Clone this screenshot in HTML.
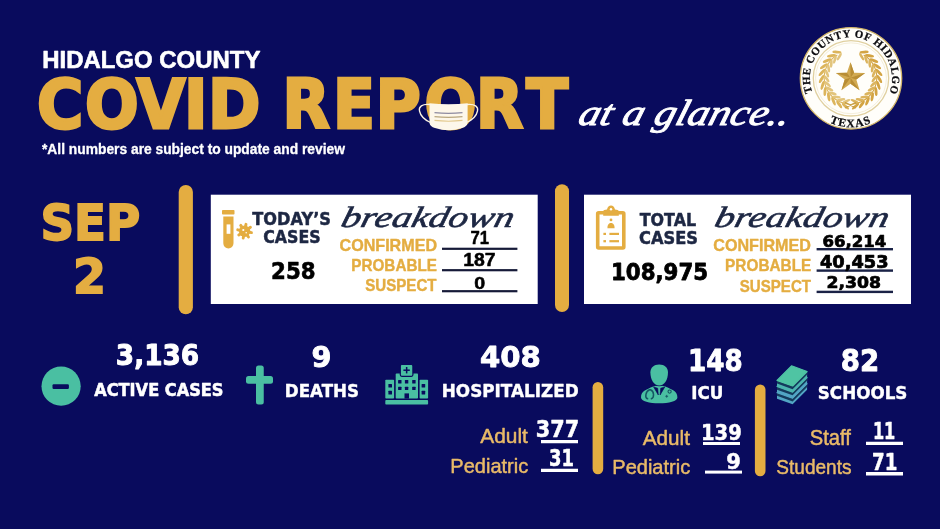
<!DOCTYPE html>
<html lang="en"><head><meta charset="utf-8"><title>Hidalgo County COVID Report at a glance</title>
<style>
html,body{margin:0;padding:0;background:#090b5d;}
body{width:940px;height:529px;overflow:hidden;}
svg{display:block;}
text{white-space:pre;}
</style></head>
<body>
<svg width="940" height="529" viewBox="0 0 940 529" role="img" aria-label="Hidalgo County COVID report at a glance">
<rect width="940" height="529" fill="#090b5d"/>
<rect x="178.7" y="185" width="14.2" height="129.3" rx="7.1" fill="#e4ad41"/>
<rect x="555" y="184.2" width="14" height="127.8" rx="7" fill="#e4ad41"/>
<rect x="592.6" y="382" width="10.6" height="92.2" rx="5.3" fill="#e4ad41"/>
<rect x="754.9" y="384.5" width="10.6" height="91.7" rx="5.3" fill="#e4ad41"/>
<rect x="210.8" y="194.7" width="326.9" height="109.3" fill="#ffffff"/>
<rect x="584" y="194.7" width="327" height="109.3" fill="#ffffff"/>
<rect x="442" y="247.70000000000002" width="75.4" height="2.2" fill="#161a38"/>
<rect x="442" y="269.09999999999997" width="75.4" height="2.2" fill="#161a38"/>
<rect x="442" y="290.09999999999997" width="75.4" height="2.2" fill="#161a38"/>
<rect x="816.6" y="248.0" width="76.4" height="2.4" fill="#1a2246"/>
<rect x="816.6" y="269.40000000000003" width="76.4" height="2.4" fill="#1a2246"/>
<rect x="816.6" y="290.7" width="76.4" height="2.4" fill="#1a2246"/>
<rect x="541" y="440" width="37" height="3.25" fill="#fff"/>
<rect x="541" y="468.75" width="37" height="3.25" fill="#fff"/>
<rect x="703" y="442" width="37" height="3" fill="#fff"/>
<rect x="705" y="470.6" width="37" height="3.0" fill="#fff"/>
<rect x="866" y="441.75" width="37" height="3.25" fill="#fff"/>
<rect x="866" y="472" width="37" height="3.5" fill="#fff"/>
<circle cx="61.1" cy="386.2" r="19.6" fill="#4abfa2"/>
<rect x="52.5" y="384.3" width="16.4" height="4.6" rx="1.2" fill="#090b5d"/>
<rect x="256" y="365.5" width="7.75" height="39" rx="2.5" fill="#4abfa2"/>
<rect x="246" y="376" width="27" height="7.75" rx="2.5" fill="#4abfa2"/>
<g fill="#4abfa2">
<rect x="385.3" y="400.1" width="42.8" height="4.5" rx="0.8"/>
<rect x="385.3" y="379.8" width="8.8" height="18.8" rx="0.8"/>
<rect x="419.6" y="379.8" width="8.5" height="18.8" rx="0.8"/>
<rect x="395.7" y="373.6" width="22.3" height="25" rx="0.8"/>
<rect x="400.3" y="364.5" width="12.6" height="11.8" rx="1.5" stroke="#090b5d" stroke-width="1.2"/>
</g>
<g fill="#090b5d">
<rect x="398.1" y="380.0" width="3.4" height="3.4" rx="0.5"/>
<rect x="398.1" y="386.7" width="3.4" height="3.4" rx="0.5"/>
<rect x="404.90000000000003" y="380.0" width="3.4" height="3.4" rx="0.5"/>
<rect x="404.90000000000003" y="386.7" width="3.4" height="3.4" rx="0.5"/>
<rect x="412.2" y="380.0" width="3.4" height="3.4" rx="0.5"/>
<rect x="412.2" y="386.7" width="3.4" height="3.4" rx="0.5"/>
<rect x="388.4" y="384.0" width="3.6" height="3.6" rx="0.5"/>
<rect x="388.4" y="390.8" width="3.6" height="3.6" rx="0.5"/>
<rect x="421.59999999999997" y="384.0" width="3.6" height="3.6" rx="0.5"/>
<rect x="421.59999999999997" y="390.8" width="3.6" height="3.6" rx="0.5"/>
<rect x="404.5" y="393.4" width="4.5" height="5.2"/>
<rect x="405.9" y="367" width="1.5" height="6.4"/><rect x="403.4" y="369.45" width="6.4" height="1.5"/>
</g>
<path d="M641 397.5 C641 391.5 646 389.6 653.2 386.6 L659.2 385 L665.2 386.6 C672.4 389.6 677.4 391.5 677.4 397.5 C677.4 401.4 669 403.3 659.2 403.3 C649.4 403.3 641 401.4 641 397.5 Z" fill="#4abfa2"/>
<path d="M650.4 372.5 C650.4 367.5 653.8 364.4 659.2 364.4 C664.6 364.4 668 367.5 668 372.5 C668 379.5 664.5 385.6 659.2 385.6 C653.9 385.6 650.4 379.5 650.4 372.5 Z" fill="#4abfa2" stroke="#090b5d" stroke-width="1.5" paint-order="stroke"/>
<path d="M653.6 386.9 L658.3 395 L657.7 388.2 Z M664.8 386.9 L660.1 395 L660.7 388.2 Z" fill="#090b5d" stroke="#090b5d" stroke-width="0.6"/>
<path d="M649.6 389.8 C645.4 391.4 644.6 397.8 647.6 398.8 M650.4 389.8 C654.6 391.4 654.2 397.8 651.4 398.8" fill="none" stroke="#155663" stroke-width="1.5" stroke-linecap="round"/>
<circle cx="669.6" cy="391.6" r="1.6" fill="none" stroke="#155663" stroke-width="1.1"/>
<path d="M665.3 396.3 h2.8 M666.7 394.9 v2.8" stroke="#155663" stroke-width="0.9"/>
<polygon points="777.0,392.6 792.6,398.2 807.1,383.7 807.1,389.8 792.6,404.3 777.0,398.7" fill="#52a5c4"/>
<polygon points="777.0,392.6 792.6,398.2 807.1,383.7 807.1,386.9 792.6,401.4 777.0,395.8" fill="#143a5c"/>
<polygon points="777.0,392.6 791.5,378.0 807.1,383.7 792.6,398.2" fill="#52a5c4" stroke="#52a5c4" stroke-width="1.2" stroke-linejoin="round"/>
<polygon points="777.0,386.5 792.6,392.1 807.1,377.6 807.1,383.7 792.6,398.2 777.0,392.6" fill="#52a5c4"/>
<polygon points="777.0,386.5 792.6,392.1 807.1,377.6 807.1,380.8 792.6,395.3 777.0,389.7" fill="#143a5c"/>
<polygon points="777.0,386.5 791.5,371.9 807.1,377.6 792.6,392.1" fill="#4cb4ae" stroke="#4cb4ae" stroke-width="1.2" stroke-linejoin="round"/>
<polygon points="777.0,380.4 792.6,386.0 807.1,371.5 807.1,377.6 792.6,392.1 777.0,386.5" fill="#4cb4ae"/>
<polygon points="777.0,380.4 792.6,386.0 807.1,371.5 807.1,374.7 792.6,389.2 777.0,383.6" fill="#143a5c"/>
<polygon points="777.0,380.4 791.5,365.8 807.1,371.5 792.6,386.0" fill="#4fc4a3" stroke="#4fc4a3" stroke-width="1.2" stroke-linejoin="round"/>
<g fill="#e4ad41">
<rect x="222" y="209.9" width="12.5" height="4.7" rx="0.8"/>
<path d="M223.3 216.6 H233.5 V243.3 A5.1 5.1 0 0 1 223.3 243.3 Z"/>
</g>
<rect x="226.6" y="224.4" width="3.8" height="9.4" fill="#ffffff"/>
<circle cx="244.6" cy="231.2" r="5.7" fill="#e4ad41"/>
<line x1="248.52" y1="231.99" x2="251.46" y2="232.59" stroke="#e4ad41" stroke-width="2.9" stroke-linecap="round"/>
<line x1="246.81" y1="234.53" x2="248.47" y2="237.03" stroke="#e4ad41" stroke-width="2.9" stroke-linecap="round"/>
<line x1="243.81" y1="235.12" x2="243.21" y2="238.06" stroke="#e4ad41" stroke-width="2.9" stroke-linecap="round"/>
<line x1="241.27" y1="233.41" x2="238.77" y2="235.07" stroke="#e4ad41" stroke-width="2.9" stroke-linecap="round"/>
<line x1="240.68" y1="230.41" x2="237.74" y2="229.81" stroke="#e4ad41" stroke-width="2.9" stroke-linecap="round"/>
<line x1="242.39" y1="227.87" x2="240.73" y2="225.37" stroke="#e4ad41" stroke-width="2.9" stroke-linecap="round"/>
<line x1="245.39" y1="227.28" x2="245.99" y2="224.34" stroke="#e4ad41" stroke-width="2.9" stroke-linecap="round"/>
<line x1="247.93" y1="228.99" x2="250.43" y2="227.33" stroke="#e4ad41" stroke-width="2.9" stroke-linecap="round"/>
<circle cx="243.29999999999998" cy="230.0" r="1.1" fill="#ffffff"/><circle cx="246.2" cy="232.7" r="0.8" fill="#ffffff"/>
<rect x="597.7" y="212.8" width="26.1" height="35.2" rx="1" fill="none" stroke="#e4ad41" stroke-width="3.6"/>
<path d="M603.2 215.7 V211.5 C603.2 210 605 209.8 607 209.6 C607.6 207.2 609 205.6 611 205.6 C613 205.6 614.4 207.2 615 209.6 C617 209.8 618.8 210 618.8 211.5 V215.7 Z" fill="#e4ad41"/>
<circle cx="611" cy="209.3" r="1.2" fill="#ffffff"/>
<circle cx="611" cy="219.9" r="1.4" fill="#e4ad41"/>
<path d="M607.4 228.3 C607.4 224.5 609 223 611 223 C613 223 614.6 224.5 614.6 228.3 Z" fill="#e4ad41"/>
<rect x="603.4" y="232.8" width="2.6" height="2.2" fill="#e4ad41"/><rect x="609.4" y="232.8" width="9.6" height="2.2" fill="#e4ad41"/>
<rect x="603.4" y="240.1" width="2.6" height="2.2" fill="#e4ad41"/><rect x="609.4" y="240.1" width="9.6" height="2.2" fill="#e4ad41"/>
<circle cx="851.0" cy="78.3" r="50.699999999999996" fill="#fffefa" stroke="#d3b76a" stroke-width="1.3"/>
<circle cx="851.0" cy="78.3" r="37.7" fill="none" stroke="#e0d0a0" stroke-width="1.3"/>
<circle cx="851.0" cy="78.3" r="35.4" fill="none" stroke="#efe6cb" stroke-width="0.7"/>
<polygon points="850.50,62.30 854.09,72.76 865.15,72.94 856.30,79.59 859.55,90.16 850.50,83.80 841.45,90.16 844.70,79.59 835.85,72.94 846.91,72.76" fill="#d2aa52"/>
<polygon points="850.50,77.70 850.50,62.30 854.09,72.76" fill="#b88d35"/>
<polygon points="850.50,77.70 865.15,72.94 856.30,79.59" fill="#b88d35"/>
<polygon points="850.50,77.70 859.55,90.16 850.50,83.80" fill="#b88d35"/>
<polygon points="850.50,77.70 841.45,90.16 844.70,79.59" fill="#b88d35"/>
<polygon points="850.50,77.70 835.85,72.94 846.91,72.76" fill="#b88d35"/>
<path d="M853.25 103.86 A26.3 26.3 0 0 0 863.65 54.92" fill="none" stroke="#d3a443" stroke-width="1.1"/>
<ellipse cx="855.54" cy="106.26" rx="4.6" ry="1.45" transform="rotate(-42.0 855.54 106.26)" fill="#d3a443"/>
<ellipse cx="854.63" cy="101.14" rx="4.2" ry="1.35" transform="rotate(22.0 854.63 101.14)" fill="#dbb45e"/>
<ellipse cx="861.79" cy="104.41" rx="4.6" ry="1.45" transform="rotate(-54.9 861.79 104.41)" fill="#d3a443"/>
<ellipse cx="859.76" cy="99.62" rx="4.2" ry="1.35" transform="rotate(9.1 859.76 99.62)" fill="#dbb45e"/>
<ellipse cx="867.47" cy="101.22" rx="4.6" ry="1.45" transform="rotate(-67.8 867.47 101.22)" fill="#d3a443"/>
<ellipse cx="864.43" cy="97.00" rx="4.2" ry="1.35" transform="rotate(-3.8 864.43 97.00)" fill="#dbb45e"/>
<ellipse cx="872.30" cy="96.83" rx="4.6" ry="1.45" transform="rotate(-80.7 872.30 96.83)" fill="#d3a443"/>
<ellipse cx="868.39" cy="93.40" rx="4.2" ry="1.35" transform="rotate(-16.7 868.39 93.40)" fill="#dbb45e"/>
<ellipse cx="876.02" cy="91.48" rx="4.6" ry="1.45" transform="rotate(-93.6 876.02 91.48)" fill="#d3a443"/>
<ellipse cx="871.44" cy="89.01" rx="4.2" ry="1.35" transform="rotate(-29.6 871.44 89.01)" fill="#dbb45e"/>
<ellipse cx="878.45" cy="85.43" rx="4.6" ry="1.45" transform="rotate(-106.5 878.45 85.43)" fill="#d3a443"/>
<ellipse cx="873.44" cy="84.04" rx="4.2" ry="1.35" transform="rotate(-42.5 873.44 84.04)" fill="#dbb45e"/>
<ellipse cx="879.47" cy="78.99" rx="4.6" ry="1.45" transform="rotate(-119.5 879.47 78.99)" fill="#d3a443"/>
<ellipse cx="874.28" cy="78.76" rx="4.2" ry="1.35" transform="rotate(-55.5 874.28 78.76)" fill="#dbb45e"/>
<ellipse cx="879.03" cy="72.48" rx="4.6" ry="1.45" transform="rotate(-132.4 879.03 72.48)" fill="#d3a443"/>
<ellipse cx="873.91" cy="73.42" rx="4.2" ry="1.35" transform="rotate(-68.4 873.91 73.42)" fill="#dbb45e"/>
<ellipse cx="877.14" cy="66.24" rx="4.6" ry="1.45" transform="rotate(-145.3 877.14 66.24)" fill="#d3a443"/>
<ellipse cx="872.36" cy="68.30" rx="4.2" ry="1.35" transform="rotate(-81.3 872.36 68.30)" fill="#dbb45e"/>
<ellipse cx="873.91" cy="60.58" rx="4.6" ry="1.45" transform="rotate(-158.2 873.91 60.58)" fill="#d3a443"/>
<ellipse cx="869.71" cy="63.65" rx="4.2" ry="1.35" transform="rotate(-94.2 869.71 63.65)" fill="#dbb45e"/>
<ellipse cx="869.49" cy="55.78" rx="4.6" ry="1.45" transform="rotate(-171.1 869.49 55.78)" fill="#d3a443"/>
<ellipse cx="866.09" cy="59.71" rx="4.2" ry="1.35" transform="rotate(-107.1 866.09 59.71)" fill="#dbb45e"/>
<ellipse cx="864.11" cy="52.09" rx="4.6" ry="1.45" transform="rotate(-184.0 864.11 52.09)" fill="#d3a443"/>
<ellipse cx="861.67" cy="56.69" rx="4.2" ry="1.35" transform="rotate(-120.0 861.67 56.69)" fill="#dbb45e"/>
<path d="M847.75 103.86 A26.3 26.3 0 0 1 837.35 54.92" fill="none" stroke="#dcb55c" stroke-width="1.1"/>
<ellipse cx="845.46" cy="106.26" rx="4.6" ry="1.45" transform="rotate(222.0 845.46 106.26)" fill="#dcb55c"/>
<ellipse cx="846.37" cy="101.14" rx="4.2" ry="1.35" transform="rotate(158.0 846.37 101.14)" fill="#e2c47c"/>
<ellipse cx="839.21" cy="104.41" rx="4.6" ry="1.45" transform="rotate(234.9 839.21 104.41)" fill="#dcb55c"/>
<ellipse cx="841.24" cy="99.62" rx="4.2" ry="1.35" transform="rotate(170.9 841.24 99.62)" fill="#e2c47c"/>
<ellipse cx="833.53" cy="101.22" rx="4.6" ry="1.45" transform="rotate(247.8 833.53 101.22)" fill="#dcb55c"/>
<ellipse cx="836.57" cy="97.00" rx="4.2" ry="1.35" transform="rotate(183.8 836.57 97.00)" fill="#e2c47c"/>
<ellipse cx="828.70" cy="96.83" rx="4.6" ry="1.45" transform="rotate(260.7 828.70 96.83)" fill="#dcb55c"/>
<ellipse cx="832.61" cy="93.40" rx="4.2" ry="1.35" transform="rotate(196.7 832.61 93.40)" fill="#e2c47c"/>
<ellipse cx="824.98" cy="91.48" rx="4.6" ry="1.45" transform="rotate(273.6 824.98 91.48)" fill="#dcb55c"/>
<ellipse cx="829.56" cy="89.01" rx="4.2" ry="1.35" transform="rotate(209.6 829.56 89.01)" fill="#e2c47c"/>
<ellipse cx="822.55" cy="85.43" rx="4.6" ry="1.45" transform="rotate(286.5 822.55 85.43)" fill="#dcb55c"/>
<ellipse cx="827.56" cy="84.04" rx="4.2" ry="1.35" transform="rotate(222.5 827.56 84.04)" fill="#e2c47c"/>
<ellipse cx="821.53" cy="78.99" rx="4.6" ry="1.45" transform="rotate(299.5 821.53 78.99)" fill="#dcb55c"/>
<ellipse cx="826.72" cy="78.76" rx="4.2" ry="1.35" transform="rotate(235.5 826.72 78.76)" fill="#e2c47c"/>
<ellipse cx="821.97" cy="72.48" rx="4.6" ry="1.45" transform="rotate(312.4 821.97 72.48)" fill="#dcb55c"/>
<ellipse cx="827.09" cy="73.42" rx="4.2" ry="1.35" transform="rotate(248.4 827.09 73.42)" fill="#e2c47c"/>
<ellipse cx="823.86" cy="66.24" rx="4.6" ry="1.45" transform="rotate(325.3 823.86 66.24)" fill="#dcb55c"/>
<ellipse cx="828.64" cy="68.30" rx="4.2" ry="1.35" transform="rotate(261.3 828.64 68.30)" fill="#e2c47c"/>
<ellipse cx="827.09" cy="60.58" rx="4.6" ry="1.45" transform="rotate(338.2 827.09 60.58)" fill="#dcb55c"/>
<ellipse cx="831.29" cy="63.65" rx="4.2" ry="1.35" transform="rotate(274.2 831.29 63.65)" fill="#e2c47c"/>
<ellipse cx="831.51" cy="55.78" rx="4.6" ry="1.45" transform="rotate(351.1 831.51 55.78)" fill="#dcb55c"/>
<ellipse cx="834.91" cy="59.71" rx="4.2" ry="1.35" transform="rotate(287.1 834.91 59.71)" fill="#e2c47c"/>
<ellipse cx="836.89" cy="52.09" rx="4.6" ry="1.45" transform="rotate(364.0 836.89 52.09)" fill="#dcb55c"/>
<ellipse cx="839.33" cy="56.69" rx="4.2" ry="1.35" transform="rotate(300.0 839.33 56.69)" fill="#e2c47c"/>
<path d="M845.5 107.7 l10 -5 M855.5 107.7 l-10 -5" stroke="#c9a046" stroke-width="1.5" stroke-linecap="round"/>
<defs><path id="arcTop" d="M812.38 92.36 A41.1 41.1 0 1 1 889.62 92.36"/>
<path id="arcBot" d="M829.52 122.34 A49.0 49.0 0 0 0 870.93 123.06"/></defs>
<text font-family='"Liberation Serif", serif' font-weight="bold" font-size="10.9" fill="#0c0c10" stroke="#0c0c10" stroke-width="0.25"><textPath href="#arcTop" textLength="157.8" lengthAdjust="spacing">THE COUNTY OF HIDALGO</textPath></text>
<text font-family='"Liberation Serif", serif' font-weight="bold" font-size="11.6" fill="#0c0c10" stroke="#0c0c10" stroke-width="0.25"><textPath href="#arcBot" textLength="42.8" lengthAdjust="spacing">TEXAS</textPath></text>

<text font-family='"Liberation Sans", sans-serif' font-weight="bold" font-style="normal" font-size="23.48" fill="#ffffff" stroke="#ffffff" stroke-width="0.6" stroke-linejoin="round" x="42.22" y="68.00" textLength="218.16" lengthAdjust="spacingAndGlyphs">HIDALGO COUNTY</text>
<text font-family='"DejaVu Sans", sans-serif' font-weight="bold" font-style="normal" font-size="66.99" fill="#e4ad41" stroke="#e4ad41" stroke-width="3.0" stroke-linejoin="miter" x="39.30 90.10 144.77 195.09 220.56" y="127.90" transform="scale(0.9428,1)">COVID</text>
<text font-family='"DejaVu Sans", sans-serif' font-weight="bold" font-style="normal" font-size="66.99" fill="#e4ad41" stroke="#e4ad41" stroke-width="3.0" stroke-linejoin="miter" x="308.44 363.37 409.96 463.26 519.44 574.46" y="127.90" transform="scale(0.9163,1)">REPORT</text>
<text font-family='"Liberation Sans", sans-serif' font-weight="bold" font-style="normal" font-size="13.77" fill="#ffffff" stroke="#ffffff" stroke-width="0.3" stroke-linejoin="round" x="42.00" y="153.75" textLength="302.92" lengthAdjust="spacingAndGlyphs">*All numbers are subject to update and review</text>
<text font-family='"Liberation Serif", serif' font-weight="normal" font-style="italic" font-size="36.50" fill="#ffffff" stroke="#ffffff" stroke-width="0.9" stroke-linejoin="round" transform="translate(576.67,125.15) skewX(-16) translate(-576.67,-125.15)" x="576.67" y="125.15" textLength="210.51" lengthAdjust="spacingAndGlyphs">at a glance..</text>
<text font-family='"DejaVu Sans", sans-serif' font-weight="bold" font-style="normal" font-size="49.04" fill="#e4ad41" stroke="#e4ad41" stroke-width="1.8" stroke-linejoin="miter" x="40.42" y="240.00" textLength="99.84" lengthAdjust="spacingAndGlyphs">SEP</text>
<text font-family='"DejaVu Sans", sans-serif' font-weight="bold" font-style="normal" font-size="48.77" fill="#e4ad41" stroke="#e4ad41" stroke-width="1.8" stroke-linejoin="miter" x="73.08" y="293.30" textLength="33.02" lengthAdjust="spacingAndGlyphs">2</text>
<text font-family='"DejaVu Sans", sans-serif' font-weight="bold" font-style="normal" font-size="17.95" fill="#1d2743" stroke="#1d2743" stroke-width="0.5" stroke-linejoin="round" x="252.33" y="225.25" textLength="78.59" lengthAdjust="spacingAndGlyphs">TODAY’S</text>
<text font-family='"DejaVu Sans", sans-serif' font-weight="bold" font-style="normal" font-size="17.26" fill="#1d2743" stroke="#1d2743" stroke-width="0.5" stroke-linejoin="round" x="263.24" y="243.35" textLength="57.39" lengthAdjust="spacingAndGlyphs">CASES</text>
<text font-family='"DejaVu Sans", sans-serif' font-weight="bold" font-style="normal" font-size="23.15" fill="#000" stroke="#000" stroke-width="0.6" stroke-linejoin="round" x="271.12" y="278.90" textLength="44.56" lengthAdjust="spacingAndGlyphs">258</text>
<text font-family='"Liberation Serif", serif' font-weight="normal" font-style="italic" font-size="29.50" fill="#1d2743" stroke="#1d2743" stroke-width="0.6" stroke-linejoin="round" transform="translate(339.74,227.30) skewX(-14) translate(-339.74,-227.30)" x="339.74" y="227.30" textLength="172.35" lengthAdjust="spacingAndGlyphs">breakdown</text>
<text font-family='"Liberation Sans", sans-serif' font-weight="bold" font-style="normal" font-size="16.38" fill="#e4ad41" stroke="#e4ad41" stroke-width="0.4" stroke-linejoin="round" x="339.51" y="250.50" textLength="97.55" lengthAdjust="spacingAndGlyphs">CONFIRMED</text>
<text font-family='"Liberation Sans", sans-serif' font-weight="bold" font-style="normal" font-size="16.67" fill="#e4ad41" stroke="#e4ad41" stroke-width="0.4" stroke-linejoin="round" x="351.31" y="270.60" textLength="85.62" lengthAdjust="spacingAndGlyphs">PROBABLE</text>
<text font-family='"Liberation Sans", sans-serif' font-weight="bold" font-style="normal" font-size="15.94" fill="#e4ad41" stroke="#e4ad41" stroke-width="0.4" stroke-linejoin="round" x="365.26" y="290.50" textLength="71.27" lengthAdjust="spacingAndGlyphs">SUSPECT</text>
<text font-family='"Liberation Sans", sans-serif' font-weight="bold" font-style="normal" font-size="18.99" fill="#000" stroke="#000" stroke-width="0.5" stroke-linejoin="round" x="470.56" y="243.95" textLength="18.55" lengthAdjust="spacingAndGlyphs">71</text>
<text font-family='"Liberation Sans", sans-serif' font-weight="bold" font-style="normal" font-size="17.97" fill="#000" stroke="#000" stroke-width="0.5" stroke-linejoin="round" x="463.19" y="266.15" textLength="32.31" lengthAdjust="spacingAndGlyphs">187</text>
<text font-family='"Liberation Sans", sans-serif' font-weight="bold" font-style="normal" font-size="16.67" fill="#000" stroke="#000" stroke-width="0.5" stroke-linejoin="round" x="474.21" y="288.95" textLength="10.90" lengthAdjust="spacingAndGlyphs">0</text>
<text font-family='"DejaVu Sans", sans-serif' font-weight="bold" font-style="normal" font-size="17.81" fill="#1d2743" stroke="#1d2743" stroke-width="0.5" stroke-linejoin="round" x="639.72" y="226.15" textLength="56.40" lengthAdjust="spacingAndGlyphs">TOTAL</text>
<text font-family='"DejaVu Sans", sans-serif' font-weight="bold" font-style="normal" font-size="17.81" fill="#1d2743" stroke="#1d2743" stroke-width="0.5" stroke-linejoin="round" x="639.04" y="244.45" textLength="59.00" lengthAdjust="spacingAndGlyphs">CASES</text>
<text font-family='"DejaVu Sans", sans-serif' font-weight="bold" font-style="normal" font-size="23.29" fill="#000" stroke="#000" stroke-width="0.8" stroke-linejoin="round" x="610.94" y="279.80" textLength="97.25" lengthAdjust="spacingAndGlyphs">108,975</text>
<text font-family='"Liberation Serif", serif' font-weight="normal" font-style="italic" font-size="29.50" fill="#1d2743" stroke="#1d2743" stroke-width="0.6" stroke-linejoin="round" transform="translate(713.23,227.50) skewX(-14) translate(-713.23,-227.50)" x="713.23" y="227.50" textLength="173.62" lengthAdjust="spacingAndGlyphs">breakdown</text>
<text font-family='"Liberation Sans", sans-serif' font-weight="bold" font-style="normal" font-size="16.81" fill="#e4ad41" stroke="#e4ad41" stroke-width="0.4" stroke-linejoin="round" x="713.27" y="250.80" textLength="97.68" lengthAdjust="spacingAndGlyphs">CONFIRMED</text>
<text font-family='"Liberation Sans", sans-serif' font-weight="bold" font-style="normal" font-size="17.25" fill="#e4ad41" stroke="#e4ad41" stroke-width="0.4" stroke-linejoin="round" x="725.11" y="271.10" textLength="86.15" lengthAdjust="spacingAndGlyphs">PROBABLE</text>
<text font-family='"Liberation Sans", sans-serif' font-weight="bold" font-style="normal" font-size="17.39" fill="#e4ad41" stroke="#e4ad41" stroke-width="0.4" stroke-linejoin="round" x="739.78" y="291.50" textLength="71.28" lengthAdjust="spacingAndGlyphs">SUSPECT</text>
<text font-family='"DejaVu Sans", sans-serif' font-weight="bold" font-style="normal" font-size="16.03" fill="#000" stroke="#000" stroke-width="0.7" stroke-linejoin="round" x="822.48" y="246.85" textLength="63.84" lengthAdjust="spacingAndGlyphs">66,214</text>
<text font-family='"DejaVu Sans", sans-serif' font-weight="bold" font-style="normal" font-size="17.12" fill="#000" stroke="#000" stroke-width="0.7" stroke-linejoin="round" x="819.98" y="267.85" textLength="68.59" lengthAdjust="spacingAndGlyphs">40,453</text>
<text font-family='"DejaVu Sans", sans-serif' font-weight="bold" font-style="normal" font-size="16.71" fill="#000" stroke="#000" stroke-width="0.7" stroke-linejoin="round" x="826.47" y="288.05" textLength="54.60" lengthAdjust="spacingAndGlyphs">2,308</text>
<text font-family='"DejaVu Sans", sans-serif' font-weight="bold" font-style="normal" font-size="28.90" fill="#ffffff" stroke="#ffffff" stroke-width="1.0" stroke-linejoin="round" x="115.83" y="365.30" textLength="83.28" lengthAdjust="spacingAndGlyphs">3,136</text>
<text font-family='"DejaVu Sans", sans-serif' font-weight="bold" font-style="normal" font-size="18.08" fill="#ffffff" stroke="#ffffff" stroke-width="0.6" stroke-linejoin="round" x="94.22" y="395.50" textLength="129.27" lengthAdjust="spacingAndGlyphs">ACTIVE CASES</text>
<text font-family='"DejaVu Sans", sans-serif' font-weight="bold" font-style="normal" font-size="29.04" fill="#ffffff" stroke="#ffffff" stroke-width="0.9" stroke-linejoin="round" x="311.51" y="367.05" textLength="19.92" lengthAdjust="spacingAndGlyphs">9</text>
<text font-family='"DejaVu Sans", sans-serif' font-weight="bold" font-style="normal" font-size="17.60" fill="#ffffff" stroke="#ffffff" stroke-width="0.4" stroke-linejoin="round" x="284.82" y="396.80" textLength="74.16" lengthAdjust="spacingAndGlyphs">DEATHS</text>
<text font-family='"DejaVu Sans", sans-serif' font-weight="bold" font-style="normal" font-size="29.04" fill="#ffffff" stroke="#ffffff" stroke-width="0.9" stroke-linejoin="round" x="480.00" y="367.05" textLength="60.87" lengthAdjust="spacingAndGlyphs">408</text>
<text font-family='"DejaVu Sans", sans-serif' font-weight="bold" font-style="normal" font-size="17.60" fill="#ffffff" stroke="#ffffff" stroke-width="0.4" stroke-linejoin="round" x="441.81" y="396.80" textLength="136.85" lengthAdjust="spacingAndGlyphs">HOSPITALIZED</text>
<text font-family='"DejaVu Sans", sans-serif' font-weight="bold" font-style="normal" font-size="29.73" fill="#ffffff" stroke="#ffffff" stroke-width="0.9" stroke-linejoin="round" x="688.08" y="371.45" textLength="54.67" lengthAdjust="spacingAndGlyphs">148</text>
<text font-family='"DejaVu Sans", sans-serif' font-weight="bold" font-style="normal" font-size="17.95" fill="#ffffff" stroke="#ffffff" stroke-width="0.4" stroke-linejoin="round" x="691.20" y="398.80" textLength="32.11" lengthAdjust="spacingAndGlyphs">ICU</text>
<text font-family='"DejaVu Sans", sans-serif' font-weight="bold" font-style="normal" font-size="29.86" fill="#ffffff" stroke="#ffffff" stroke-width="0.9" stroke-linejoin="round" x="840.74" y="371.45" textLength="38.47" lengthAdjust="spacingAndGlyphs">82</text>
<text font-family='"DejaVu Sans", sans-serif' font-weight="bold" font-style="normal" font-size="17.95" fill="#ffffff" stroke="#ffffff" stroke-width="0.4" stroke-linejoin="round" x="817.82" y="398.80" textLength="89.56" lengthAdjust="spacingAndGlyphs">SCHOOLS</text>
<text font-family='"Liberation Sans", sans-serif' font-weight="normal" font-style="normal" font-size="21.01" fill="#e9ba68" stroke="#e9ba68" stroke-width="0.5" stroke-linejoin="round" x="480.25" y="443.25" textLength="47.63" lengthAdjust="spacingAndGlyphs">Adult</text>
<text font-family='"Liberation Sans", sans-serif' font-weight="normal" font-style="normal" font-size="20.87" fill="#e9ba68" stroke="#e9ba68" stroke-width="0.5" stroke-linejoin="round" x="450.36" y="472.95" textLength="77.79" lengthAdjust="spacingAndGlyphs">Pediatric</text>
<text font-family='"DejaVu Sans", sans-serif' font-weight="bold" font-style="normal" font-size="22.60" fill="#ffffff" stroke="#ffffff" stroke-width="0.5" stroke-linejoin="round" x="535.85" y="437.00" textLength="43.46" lengthAdjust="spacingAndGlyphs">377</text>
<text font-family='"DejaVu Sans", sans-serif' font-weight="bold" font-style="normal" font-size="22.26" fill="#ffffff" stroke="#ffffff" stroke-width="0.5" stroke-linejoin="round" x="548.99" y="465.50" textLength="24.99" lengthAdjust="spacingAndGlyphs">31</text>
<text font-family='"Liberation Sans", sans-serif' font-weight="normal" font-style="normal" font-size="21.01" fill="#e9ba68" stroke="#e9ba68" stroke-width="0.5" stroke-linejoin="round" x="642.75" y="444.75" textLength="47.13" lengthAdjust="spacingAndGlyphs">Adult</text>
<text font-family='"Liberation Sans", sans-serif' font-weight="normal" font-style="normal" font-size="20.43" fill="#e9ba68" stroke="#e9ba68" stroke-width="0.5" stroke-linejoin="round" x="612.28" y="474.15" textLength="77.94" lengthAdjust="spacingAndGlyphs">Pediatric</text>
<text font-family='"DejaVu Sans", sans-serif' font-weight="bold" font-style="normal" font-size="21.92" fill="#ffffff" stroke="#ffffff" stroke-width="0.5" stroke-linejoin="round" x="700.99" y="439.55" textLength="40.89" lengthAdjust="spacingAndGlyphs">139</text>
<text font-family='"DejaVu Sans", sans-serif' font-weight="bold" font-style="normal" font-size="21.92" fill="#ffffff" stroke="#ffffff" stroke-width="0.5" stroke-linejoin="round" x="726.28" y="468.55" textLength="14.69" lengthAdjust="spacingAndGlyphs">9</text>
<text font-family='"Liberation Sans", sans-serif' font-weight="normal" font-style="normal" font-size="21.38" fill="#e9ba68" stroke="#e9ba68" stroke-width="0.5" stroke-linejoin="round" x="809.79" y="444.50" textLength="41.06" lengthAdjust="spacingAndGlyphs">Staff</text>
<text font-family='"Liberation Sans", sans-serif' font-weight="normal" font-style="normal" font-size="20.29" fill="#e9ba68" stroke="#e9ba68" stroke-width="0.5" stroke-linejoin="round" x="776.30" y="474.15" textLength="75.25" lengthAdjust="spacingAndGlyphs">Students</text>
<text font-family='"DejaVu Sans", sans-serif' font-weight="bold" font-style="normal" font-size="22.60" fill="#ffffff" stroke="#ffffff" stroke-width="0.5" stroke-linejoin="round" x="872.89" y="439.00" textLength="22.47" lengthAdjust="spacingAndGlyphs">11</text>
<text font-family='"DejaVu Sans", sans-serif' font-weight="bold" font-style="normal" font-size="22.33" fill="#ffffff" stroke="#ffffff" stroke-width="0.5" stroke-linejoin="round" x="871.98" y="470.15" textLength="25.35" lengthAdjust="spacingAndGlyphs">71</text>

<path d="M430 104.5 C422 103.5 418.5 107 419.5 111 C420.5 116 425 120 430.5 122.5" fill="none" stroke="#fbf3e2" stroke-width="1.3"/>
<path d="M467 104.5 C475 103.5 478.5 107 477.5 111 C476.5 116 472 120 466.5 122.5" fill="none" stroke="#fbf3e2" stroke-width="1.3"/>
<path d="M429.5 103.3 Q448.5 105.3 467.6 103.3 L467.6 123 Q467 126.5 462 128 Q448.5 132.5 435 128 Q430 126.5 429.5 123 Z" fill="#fdf7ea"/>
<path d="M434.5 112.6 Q448.5 114.2 462.5 112.6" fill="none" stroke="#8d8aa0" stroke-width="1.1"/>
<path d="M434.5 116.6 Q448.5 118.2 462.5 116.6" fill="none" stroke="#b9a77e" stroke-width="1.1"/>
<path d="M434.5 120.4 Q448.5 122 462.5 120.4" fill="none" stroke="#e2c88c" stroke-width="1.1"/>
</svg>
</body></html>
